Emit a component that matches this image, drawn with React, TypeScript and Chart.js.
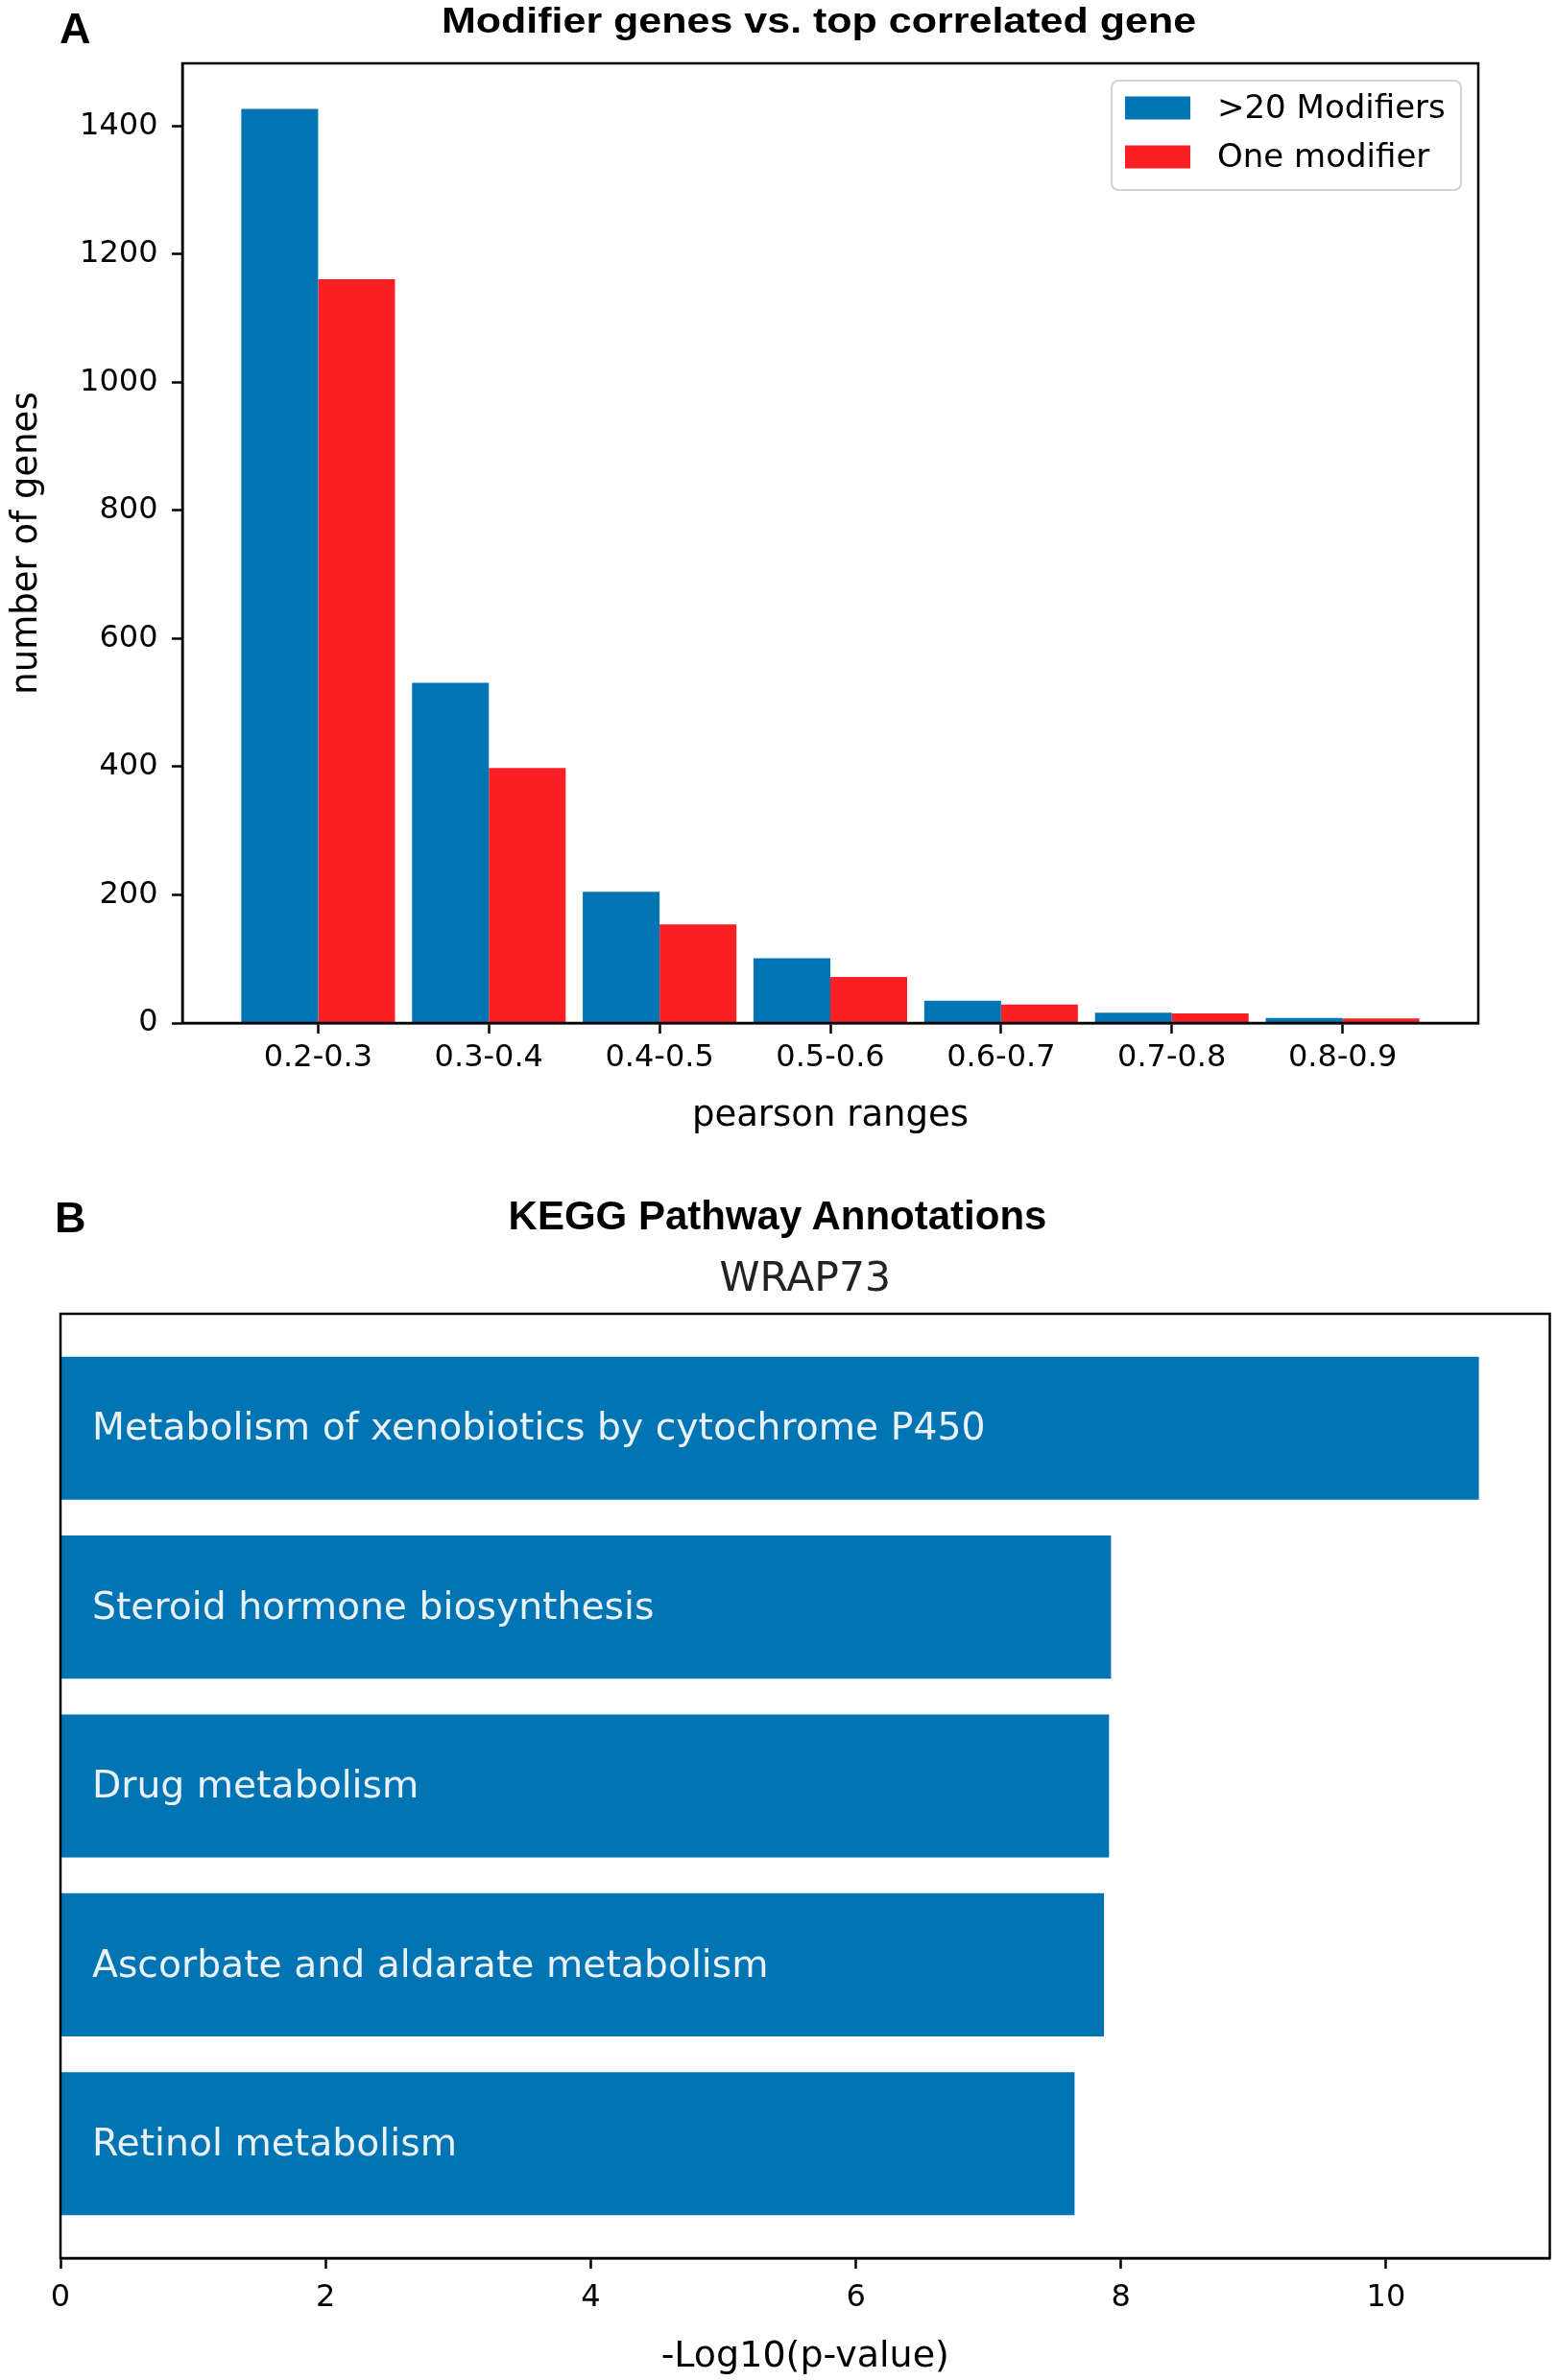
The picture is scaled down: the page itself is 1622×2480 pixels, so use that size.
import React, { useEffect, useRef } from 'react';
import { Chart, registerables } from 'chart.js';

Chart.register(...registerables);

// ---------- Panel A data ----------
const rangeLabels = ['0.2-0.3', '0.3-0.4', '0.4-0.5', '0.5-0.6', '0.6-0.7', '0.7-0.8', '0.8-0.9'];
const seriesNames = ['>20 Modifiers', 'One modifier'];
const manyModifiers = [1427, 531, 205, 101, 35, 16, 8];
const oneModifier = [1161, 398, 154, 72, 29, 15, 7];
const countTicks = [0, 200, 400, 600, 800, 1000, 1200, 1400];

// ---------- Panel B data ----------
const pathways = [
  'Metabolism of xenobiotics by cytochrome P450',
  'Steroid hormone biosynthesis',
  'Drug metabolism',
  'Ascorbate and aldarate metabolism',
  'Retinol metabolism',
];
const pathwayScores = [10.7, 7.925, 7.91, 7.872, 7.65];
const scoreTicks = [0, 2, 4, 6, 8, 10];

const BLUE = '#0174b4';
const RED = '#f92024';
const DV = '"DejaVu Sans", sans-serif';

const framePlugin = {
  id: 'frameBox',
  afterDraw(chart: any) {
    const { ctx, chartArea: a } = chart;
    ctx.save();
    ctx.strokeStyle = '#000';
    ctx.lineWidth = 2.5;
    ctx.strokeRect(a.left, a.top, a.right - a.left, a.bottom - a.top);
    ctx.restore();
  },
};

const boxLegendPlugin = {
  id: 'boxLegend',
  afterDraw(chart: any) {
    const { ctx, chartArea: a } = chart;
    const w = 364;
    const h = 114;
    const x0 = a.right - 18 - w;
    const y0 = a.top + 18;
    ctx.save();
    ctx.beginPath();
    const r = 8;
    ctx.moveTo(x0 + r, y0);
    ctx.lineTo(x0 + w - r, y0);
    ctx.quadraticCurveTo(x0 + w, y0, x0 + w, y0 + r);
    ctx.lineTo(x0 + w, y0 + h - r);
    ctx.quadraticCurveTo(x0 + w, y0 + h, x0 + w - r, y0 + h);
    ctx.lineTo(x0 + r, y0 + h);
    ctx.quadraticCurveTo(x0, y0 + h, x0, y0 + h - r);
    ctx.lineTo(x0, y0 + r);
    ctx.quadraticCurveTo(x0, y0, x0 + r, y0);
    ctx.closePath();
    ctx.fillStyle = 'rgba(255,255,255,0.8)';
    ctx.fill();
    ctx.strokeStyle = '#d3d3d3';
    ctx.lineWidth = 2;
    ctx.stroke();
    ctx.font = '34px ' + DV;
    ctx.textBaseline = 'middle';
    ctx.textAlign = 'left';
    chart.data.datasets.forEach((ds: any, i: number) => {
      const cy = y0 + 28.5 + i * 51;
      ctx.fillStyle = ds.backgroundColor;
      ctx.fillRect(x0 + 14, cy - 12, 68, 24);
      ctx.fillStyle = '#000';
      ctx.fillText(ds.label, x0 + 110, cy + 1.5);
    });
    ctx.restore();
  },
};

const barTextPlugin = {
  id: 'barText',
  afterDatasetsDraw(chart: any) {
    const { ctx, chartArea: a } = chart;
    const meta = chart.getDatasetMeta(0);
    ctx.save();
    ctx.font = '39.3px ' + DV;
    ctx.fillStyle = '#eaf2f8';
    ctx.textBaseline = 'middle';
    ctx.textAlign = 'left';
    meta.data.forEach((el: any, i: number) => {
      ctx.fillText(chart.data.labels[i], a.left + 33, el.y + 2);
    });
    ctx.restore();
  },
};

const tickGrid = {
  display: true,
  drawOnChartArea: false,
  drawTicks: true,
  tickLength: 11,
  tickWidth: 2.5,
  tickColor: '#000',
  offset: false,
};
const blackBorder = { display: true, color: '#000', width: 2.5 };

export default function App() {
  const topRef = useRef<HTMLCanvasElement>(null);
  const bottomRef = useRef<HTMLCanvasElement>(null);

  useEffect(() => {
    const c1 = new Chart(topRef.current as HTMLCanvasElement, {
      type: 'bar',
      data: {
        datasets: [
          {
            label: seriesNames[0],
            data: manyModifiers.map((v, i) => ({ x: i, y: v })),
            backgroundColor: BLUE,
            borderWidth: 0,
            categoryPercentage: 0.9,
            barPercentage: 1,
          },
          {
            label: seriesNames[1],
            data: oneModifier.map((v, i) => ({ x: i, y: v })),
            backgroundColor: RED,
            borderWidth: 0,
            categoryPercentage: 0.9,
            barPercentage: 1,
          },
        ],
      } as any,
      options: {
        responsive: false,
        animation: false,
        layout: { padding: { left: 0, right: 82, top: 66, bottom: 0 } },
        plugins: { legend: { display: false }, tooltip: { enabled: false }, title: { display: false } },
        scales: {
          x: {
            type: 'linear',
            min: -0.795,
            max: 6.795,
            offset: false,
            grid: tickGrid,
            border: blackBorder,
            afterBuildTicks: (s: any) => {
              s.ticks = rangeLabels.map((_, i) => ({ value: i }));
            },
            afterFit: (s: any) => {
              s.height = 134;
            },
            ticks: {
              autoSkip: false,
              maxRotation: 0,
              padding: 6.5,
              color: '#000',
              font: { family: DV, size: 32 },
              callback: (v: any) => rangeLabels[Math.round(Number(v))],
            },
            title: {
              display: true,
              text: 'pearson ranges',
              color: '#000',
              font: { family: DV, size: 37 },
              padding: { top: 0, bottom: 14.5 },
            },
          },
          y: {
            type: 'linear',
            min: 0,
            max: 1498,
            grid: tickGrid,
            border: blackBorder,
            afterBuildTicks: (s: any) => {
              s.ticks = countTicks.map((v) => ({ value: v }));
            },
            afterFit: (s: any) => {
              s.width = 190;
            },
            ticks: {
              padding: 14.5,
              color: '#000',
              font: { family: DV, size: 32 },
              callback: (v: any) => String(v),
            },
            title: {
              display: true,
              text: 'number of genes',
              color: '#000',
              font: { family: DV, size: 37 },
              padding: { top: 5.8, bottom: 0 },
            },
          },
        },
      } as any,
      plugins: [framePlugin, boxLegendPlugin],
    });

    const c2 = new Chart(bottomRef.current as HTMLCanvasElement, {
      type: 'bar',
      data: {
        labels: pathways,
        datasets: [
          {
            label: 'KEGG',
            data: pathwayScores.map((v, i) => ({ x: v, y: i })),
            backgroundColor: BLUE,
            borderWidth: 0,
            categoryPercentage: 0.8,
            barPercentage: 1,
          },
        ],
      } as any,
      options: {
        indexAxis: 'y',
        responsive: false,
        animation: false,
        layout: { padding: { left: 63, right: 7.5, top: 0, bottom: 0 } },
        plugins: {
          legend: { display: false },
          tooltip: { enabled: false },
          title: {
            display: true,
            text: 'WRAP73',
            fullSize: false,
            color: '#222',
            font: { family: DV, size: 42.5, weight: 'normal' },
            padding: { top: 108.5, bottom: 9.5 },
          },
        },
        scales: {
          y: {
            type: 'linear',
            min: -0.64,
            max: 4.64,
            reverse: true,
            offset: false,
            display: false,
            afterBuildTicks: (s: any) => {
              s.ticks = pathways.map((_, i) => ({ value: i }));
            },
          },
          x: {
            type: 'linear',
            position: 'bottom',
            min: 0,
            max: 11.235,
            grid: tickGrid,
            border: blackBorder,
            afterBuildTicks: (s: any) => {
              s.ticks = scoreTicks.map((v) => ({ value: v }));
            },
            afterFit: (s: any) => {
              s.height = 127;
            },
            ticks: {
              padding: 11.5,
              maxRotation: 0,
              autoSkip: false,
              color: '#000',
              font: { family: DV, size: 32 },
              callback: (v: any) => String(v),
            },
            title: {
              display: true,
              text: '-Log10(p-value)',
              color: '#000',
              font: { family: DV, size: 38 },
              padding: { top: 0, bottom: 1.5 },
            },
          },
        },
      } as any,
      plugins: [framePlugin, barTextPlugin],
    });

    return () => {
      c1.destroy();
      c2.destroy();
    };
  }, []);

  const boldFont = '"Liberation Sans", Arial, Helvetica, sans-serif';
  const abs = (left: number, top: number, size: number): React.CSSProperties => ({
    position: 'absolute',
    left,
    top,
    fontFamily: boldFont,
    fontWeight: 'bold',
    fontSize: size,
    lineHeight: size + 'px',
    whiteSpace: 'nowrap',
    color: '#000',
  });

  return (
    <div style={{ position: 'absolute', left: 0, top: 0, width: 1622, height: 2480, background: '#fff', overflow: 'hidden' }}>
      <canvas ref={topRef} width={1622} height={1200} style={{ position: 'absolute', left: 0, top: 0 }} />
      <canvas ref={bottomRef} width={1622} height={1280} style={{ position: 'absolute', left: 0, top: 1200 }} />
      <div style={abs(62, 6.7, 45)}>A</div>
      <div style={{ ...abs(853, 2.2, 43), transform: 'translateX(-50%) scaleY(0.88)', transformOrigin: 'top center' }}>
        Modifier genes vs. top correlated gene
      </div>
      <div style={abs(57, 1246, 45)}>B</div>
      <div style={{ ...abs(810, 1246, 42), transform: 'translateX(-50%)' }}>KEGG Pathway Annotations</div>
    </div>
  );
}
